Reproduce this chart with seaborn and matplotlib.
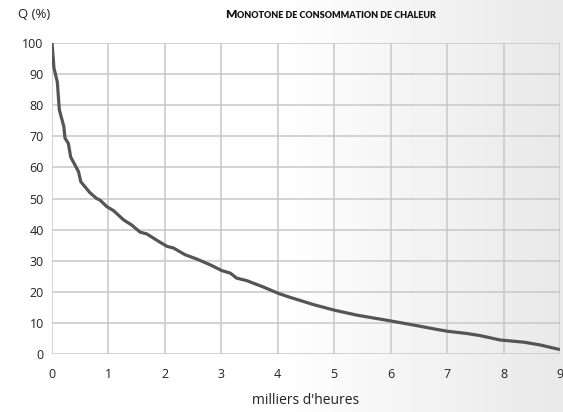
import numpy as np
import pandas as pd
import matplotlib
matplotlib.use('Agg')
import matplotlib.pyplot as plt
import seaborn as sns

# Monotone de consommation de chaleur
hours_k = [0, 0.035, 0.094, 0.13, 0.21, 0.23, 0.29, 0.33, 0.47, 0.51, 0.67, 0.79,
           0.85, 0.97, 1.09, 1.27, 1.41, 1.56, 1.68, 1.89, 2.04, 2.15, 2.36, 2.57,
           2.80, 3.01, 3.16, 3.27, 3.45, 3.75, 4.01, 4.22, 4.40, 4.63, 5.00, 5.40,
           5.82, 6.01, 6.41, 6.82, 7.01, 7.35, 7.59, 7.94, 8.36, 8.65, 8.98]
q_pct = [100, 91.9, 87.5, 78.5, 73.1, 69.4, 67.7, 63.4, 58.6, 55.4, 51.9, 50.0,
         49.5, 47.4, 46.1, 43.1, 41.5, 39.2, 38.6, 36.2, 34.6, 34.1, 31.9, 30.5,
         28.7, 26.8, 26.0, 24.4, 23.6, 21.5, 19.5, 18.2, 17.2, 15.9, 14.1, 12.5,
         11.2, 10.6, 9.3, 7.9, 7.3, 6.6, 5.9, 4.5, 3.8, 2.9, 1.5]
x_ticks = list(range(0, 10))
y_ticks = list(range(0, 101, 10))

title_first = 'M'
title_rest = 'ONOTONE DE CONSOMMATION DE CHALEUR'
y_label = 'Q (%)'
x_label = "milliers d'heures"

df = pd.DataFrame({'hours': hours_k, 'q': q_pct})

sns.set_theme(style='white')
plt.rcParams['font.family'] = ['Open Sans', 'DejaVu Sans']

fig = plt.figure(figsize=(5.63, 4.12), dpi=100)

# background gradient: white on the left half, fading to light grey on the right
bg = fig.add_axes([0, 0, 1, 1], zorder=-10)
t = np.linspace(0, 1, 563)
shade = np.where(t < 0.48, 1.0, 1.0 - (t - 0.48) / 0.52 * 0.09)
bg.imshow(np.tile(shade, (10, 1)), cmap='gray', vmin=0, vmax=1, aspect='auto',
          extent=[0, 1, 0, 1])
bg.axis('off')

ax = fig.add_axes([52 / 563, 58 / 412, 508 / 563, 311 / 412])
ax.set_facecolor('none')
sns.lineplot(data=df, x='hours', y='q', ax=ax, color='#555555', linewidth=2.3)

ax.set_xlim(0, 9)
ax.set_ylim(0, 100)
ax.set_xticks(x_ticks)
ax.set_yticks(y_ticks)
ax.grid(True, color='#c8c8c8', linewidth=1.1)
for s in ax.spines.values():
    s.set_visible(False)
ax.tick_params(axis='both', length=0, labelsize=9, colors='#222222')
ax.tick_params(axis='x', pad=10)
ax.tick_params(axis='y', pad=6)
ax.set_xlabel(x_label, fontsize=10, color='#222222', labelpad=9)
ax.set_ylabel('')

fig.text(18 / 563, 1 - 15 / 412, y_label, fontsize=9.5, color='#222222',
         ha='left', va='center')

# small caps style title
fig.canvas.draw()
r = fig.canvas.get_renderer()
t1 = fig.text(0, 1 - 18 / 412, title_first, fontsize=8.6, fontweight='heavy',
              color='#111111', va='baseline', family=['Lato', 'DejaVu Sans'])
t2 = fig.text(0, 1 - 18 / 412, title_rest, fontsize=6.5, fontweight='heavy',
              color='#111111', va='baseline', family=['Lato', 'DejaVu Sans'])
w1 = t1.get_window_extent(r).width
w2 = t2.get_window_extent(r).width
start = 330 - (w1 + w2) / 2
t1.set_x(start / 563)
t2.set_x((start + w1 + 0.5) / 563)

fig.savefig('out.png', dpi=100)
